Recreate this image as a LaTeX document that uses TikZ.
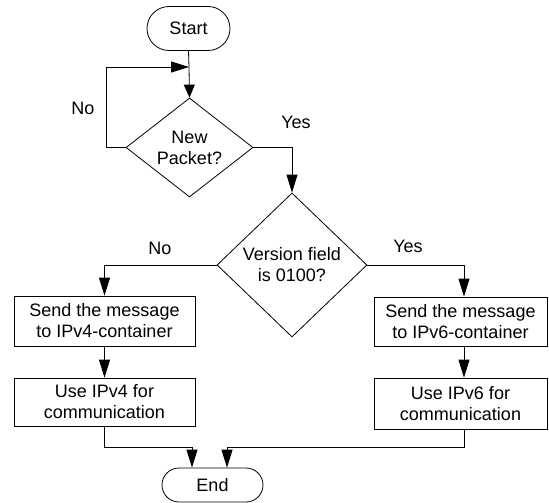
\documentclass[tikz,border=0pt]{standalone}
\usepackage{fontspec}
\setmainfont{Liberation Sans}
\usetikzlibrary{shapes.geometric,arrows.meta}
\begin{document}
\begin{tikzpicture}[x=1pt,y=-1pt,
  every node/.style={font=\fontsize{18}{21}\selectfont, text=black},
  line/.style={draw=black, line width=0.8pt},
  flow/.style={line, -{Triangle[length=18pt,width=11pt]}},
  shortflow/.style={line, -{Triangle[length=13pt,width=11pt]}},
  terminal/.style={line, rectangle, rounded corners=#1, inner sep=0pt},
  decision/.style={line, diamond, inner sep=0pt, align=center},
  process/.style={line, rectangle, inner sep=0pt, align=center},
  lbl/.style={inner sep=0pt}]
\useasboundingbox (0,0) rectangle (549,503);

% start / end terminals
\node[terminal=22pt, minimum width=83pt, minimum height=44pt] (start) at (188.5,28.5) {Start};
\node[terminal=17pt, minimum width=101pt, minimum height=34pt] (end) at (212.5,485) {End};

% decisions
\node[decision, aspect=1.28, minimum width=127pt, minimum height=99pt] (d1) at (189.5,147.5) {New\\Packet?};
\node[decision, aspect=1.04, minimum width=150pt, minimum height=144pt] (d2) at (292,265) {Version field\\is 0100?};

% process boxes
\node[process, minimum width=181pt, minimum height=50pt] (l1) at (104.5,321) {Send the message\\to IPv4-container};
\node[process, minimum width=173pt, minimum height=49pt] (r1) at (460.5,321.5) {Send the message\\to IPv6-container};
\node[process, minimum width=181pt, minimum height=48pt] (l2) at (104.5,402) {Use IPv4 for\\communication};
\node[process, minimum width=173pt, minimum height=51pt] (r2) at (460.5,403.5) {Use IPv6 for\\communication};

% branch labels
\node[lbl] (no1) at (83,108) {No};
\node[lbl] (yes1) at (296,122) {Yes};
\node[lbl] (no2) at (160,248) {No};
\node[lbl] (yes2) at (408,246) {Yes};

% routing helpers
\coordinate (merge) at (189,67);
\coordinate (loopx) at (106,0);
\coordinate (rightx) at (464,0);
\coordinate (joinL) at (192,0);
\coordinate (joinR) at (227,0);
\coordinate (bus) at (0,447);

% connectors
\draw[line] (start.south) -- (merge);
\draw[shortflow] (merge) -- (d1.north);
\draw[flow] (d1.west) -| (loopx |- merge) -- (merge);
\draw[flow] (d1.east) -| (d2.north);
\draw[flow] (d2.west) -| (l1.north);
\draw[flow] (d2.east) -| (rightx |- r1.north);
\draw[flow] (l1.south) -- (l2.north);
\draw[flow] (rightx |- r1.south) -- (rightx |- r2.north);
\draw[flow] (l2.south) -- (l2.south |- bus) -| (joinL |- end.north);
\draw[flow] (rightx |- r2.south) -- (rightx |- bus) -| (joinR |- end.north);
\end{tikzpicture}
\end{document}
